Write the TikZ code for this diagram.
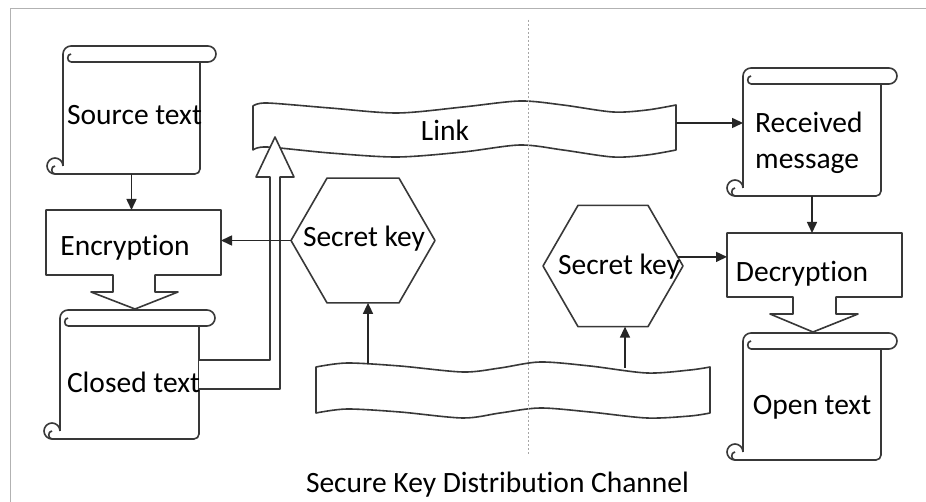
\documentclass[tikz,border=0pt]{standalone}
\usepackage{fontspec}
\setmainfont{Carlito}[Ligatures={NoCommon,NoContextual}]
\usetikzlibrary{arrows.meta,shapes.geometric,fit}
\tikzset{
  shp/.style={draw=black!78, line width=1.6pt, line join=round},
  arr/.style={draw=black!85, line width=1.5pt, -{Triangle[length=11pt,width=10pt]}},
  lbl/.style={anchor=base, inner sep=0pt, text=black, font=\fontsize{29.5pt}{35pt}\selectfont},
  lblw/.style={lbl, anchor=base west},
  area/.style={inner sep=0pt, outer sep=0pt},
  hexa/.style={regular polygon, regular polygon sides=6, shp, fill=white, inner sep=0pt, outer sep=0pt},
}
% scroll: name, X0 (body left), X1 (body right), Y0 (top), Y1 (bottom)
\newcommand\scrollshape[5]{%
  \fill[white] (#2,#4) rectangle (#3+16,#4+16);
  \fill[white] (#2,#4+16) rectangle (#3,#5);
  \draw[shp] (#2,#4+8) -- (#2,#5-8);
  \draw[shp, rounded corners=8pt] (#2,#4+16) -- (#2,#4) -- (#3+16,#4) -- (#3+16,#4+16) -- (#2+8,#4+16);
  \draw[shp] (#2+8,#4+8) to[out=180,in=180,looseness=1.4] (#2+8,#4+16);
  \draw[shp, rounded corners=5pt] (#3,#4+16) -- (#3,#5) -- (#2-8,#5);
  \draw[shp] (#2-8,#5) to[out=180,in=270] (#2-16,#5-8) to[out=90,in=180] (#2-8,#5-16) to[out=0,in=90] (#2,#5-8);
  \draw[shp] (#2-8,#5-8) to[out=180,in=180,looseness=1.4] (#2-8,#5);
  \node[fit={(#2,#4+16) (#3,#5)}, area] (#1) {};
}
\begin{document}
\begin{tikzpicture}[x=1pt,y=-1pt]
\useasboundingbox (0,0) rectangle (926,502);
\fill[white] (0,0) rectangle (926,502);
% frame
\draw[black!30, line width=1pt] (926,9) -- (10,9) -- (10,502);

% scrolls
\scrollshape{src}{63}{200}{46}{174}
\scrollshape{cls}{60}{199}{310}{439}
\scrollshape{rcv}{743}{881}{68}{196}
\scrollshape{opn}{743}{881}{333}{460}

% encryption box with block arrow
\filldraw[shp, fill=white] (46,210) -- (221,210) -- (221,275) -- (155,275) -- (155,292) -- (178,292) -- (135,309) -- (91,292) -- (113,292) -- (113,275) -- (46,275) -- cycle;
\node[fit={(46,210) (221,275)}, area] (enc) {};
% decryption box with block arrow
\filldraw[shp, fill=white] (727,233) -- (902,233) -- (902,297) -- (836,297) -- (836,314) -- (858,314) -- (813,332) -- (770,314) -- (793,314) -- (793,297) -- (727,297) -- cycle;
\node[fit={(727,233) (902,297)}, area] (dec) {};

% link banner
\filldraw[shp, fill=white] plot[smooth] coordinates {(253,106) (267,103) (330,108) (397,113) (463,107) (520,101) (563,105) (613,112) (647,110) (676,105)}
  -- plot[smooth] coordinates {(676,150) (647,155) (613,157) (563,150) (520,145) (463,152) (397,157) (330,153) (267,147) (253,150)} -- cycle;
\coordinate (linkR) at (676,123);
\coordinate (linkTip) at (275,137);

% key channel banner
\filldraw[shp, fill=white] plot[smooth] coordinates {(316,367) (347,363) (400,366) (463,372) (500,368) (540,362) (590,366) (647,373) (690,370) (710,367)}
  -- plot[smooth] coordinates {(710,413) (690,416) (647,418) (590,412) (540,408) (500,413) (463,418) (400,412) (347,409) (316,413)} -- cycle;
\coordinate (kbL) at (368,364);
\coordinate (kbR) at (625,368);

% hexagons
\node[hexa, minimum size=144pt] (hexL) at (363,240.5) {};
\node[hexa, minimum size=140pt] (hexR) at (613,266) {};

% hollow arrow from closed text to link
\coordinate (h1) at (270,360);
\coordinate (h2) at (280,389);
\filldraw[shp, fill=white] (h1 -| cls.east) -- (h1) -- (270,177) -- (256,177) -- (linkTip) -- (294,177) -- (280,177) -- (h2) -- (h2 -| cls.east);

% connectors
\draw[arr] (src.south) -- (src.south |- enc.north);
\draw[arr] (hexL.west) -- (hexL.west -| enc.east);
\draw[arr] (linkR) -- (linkR -| rcv.west);
\draw[arr] (rcv.south) -- (rcv.south |- dec.north);
\draw[arr] (hexR.8) -- (hexR.8 -| dec.west);
\draw[arr] (kbL) -- (kbL |- hexL.south);
\draw[arr] (kbR) -- (kbR |- hexR.south);

% divider
\draw[black!35, line width=1pt, dash pattern=on 2pt off 2pt] (528,20) -- (528,455);

% texts
\node[lbl] (tsrc) at (134.5,125) {Source text};
\node[lbl] (tenc) at (125,256) {Encryption};
\node[lbl] (tcls) at (133.5,392) {Closed text};
\node[lbl] (tlink) at (445,141) {Link};
\node[lblw] (trcv1) at (755,133) {Received};
\node[lblw] (trcv2) at (755,169) {message};
\node[lbl] (tdec) at (802,282) {Decryption};
\node[lbl] (topn) at (812,414) {Open text};
\node[lbl] (tkeyL) at (364,247) {Secret key};
\node[lbl] (tkeyR) at (619,275) {Secret key};
\node[lbl] (tchan) at (497.5,492) {Secure Key Distribution Channel};
\end{tikzpicture}
\end{document}
